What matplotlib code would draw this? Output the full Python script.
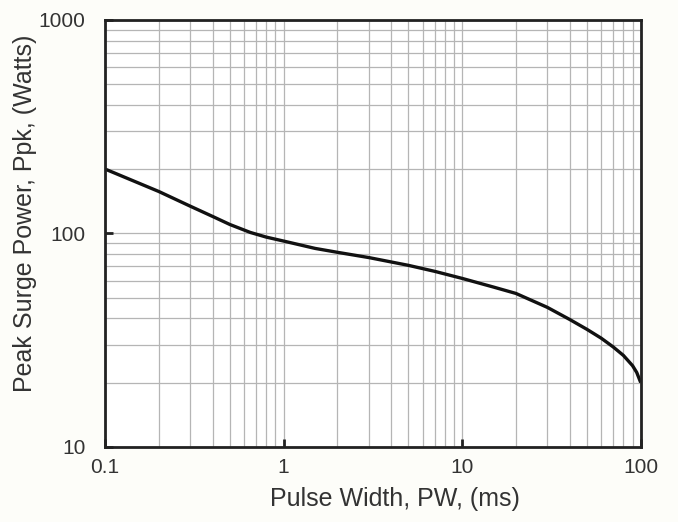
import matplotlib
matplotlib.use("Agg")
import matplotlib.pyplot as plt
from matplotlib.ticker import LogLocator, NullFormatter, FixedLocator, FixedFormatter

# pulse width (ms) and peak surge power (W)
pulse_width = [0.1, 0.2, 0.3, 0.4, 0.5, 0.65, 0.8, 1, 1.5, 2, 3, 5, 7, 10,
               15, 20, 30, 40, 50, 60, 70, 80, 90, 95, 100]
peak_power = [200, 157, 134, 120, 110, 101, 96, 92, 85, 81.5, 77, 70.8, 66.4, 61.5,
              56, 52.3, 45, 39.5, 35.5, 32.3, 29.4, 26.8, 24, 22.3, 20]

x_ticks = [0.1, 1, 10, 100]
x_labels = ["0.1", "1", "10", "100"]
y_ticks = [10, 100, 1000]
y_labels = ["10", "100", "1000"]

plt.rcParams['font.family'] = ['Liberation Sans', 'DejaVu Sans']

fig = plt.figure(figsize=(6.78, 5.22), dpi=100, facecolor='#fdfdf9')
ax = fig.add_axes([0.155, 0.144, 0.79, 0.818])
ax.set_facecolor('white')

ax.plot(pulse_width, peak_power, color='#111111', lw=2.4, solid_capstyle='butt')

ax.set_xscale('log')
ax.set_yscale('log')
ax.set_xlim(0.1, 100)
ax.set_ylim(10, 1000)

ax.xaxis.set_major_locator(FixedLocator(x_ticks))
ax.xaxis.set_major_formatter(FixedFormatter(x_labels))
ax.yaxis.set_major_locator(FixedLocator(y_ticks))
ax.yaxis.set_major_formatter(FixedFormatter(y_labels))
ax.xaxis.set_minor_locator(LogLocator(base=10, subs=range(2, 10)))
ax.yaxis.set_minor_locator(LogLocator(base=10, subs=range(2, 10)))
ax.xaxis.set_minor_formatter(NullFormatter())
ax.yaxis.set_minor_formatter(NullFormatter())

ax.grid(True, which='both', color='#b5b5b5', lw=0.9)
ax.set_axisbelow(True)

ax.tick_params(which='major', direction='in', length=6, width=2, color='#222222',
               labelsize=15, labelcolor='#333333')
ax.tick_params(axis='x', which='major', pad=8)
ax.tick_params(axis='y', which='major', pad=14)
ax.tick_params(which='minor', length=0)

for s in ax.spines.values():
    s.set_linewidth(2)
    s.set_color('#222222')

ax.set_xlabel('Pulse Width, PW, (ms)', fontsize=18, color='#333333', labelpad=7)
ax.set_ylabel('Peak Surge Power, Ppk, (Watts)', fontsize=18, color='#333333', labelpad=1)
ax.xaxis.set_label_coords(0.541, -0.095)
ax.xaxis.label.set_va('top')
ax.yaxis.label.set_y(0.548)

fig.savefig('out.png', dpi=100, facecolor=fig.get_facecolor())
